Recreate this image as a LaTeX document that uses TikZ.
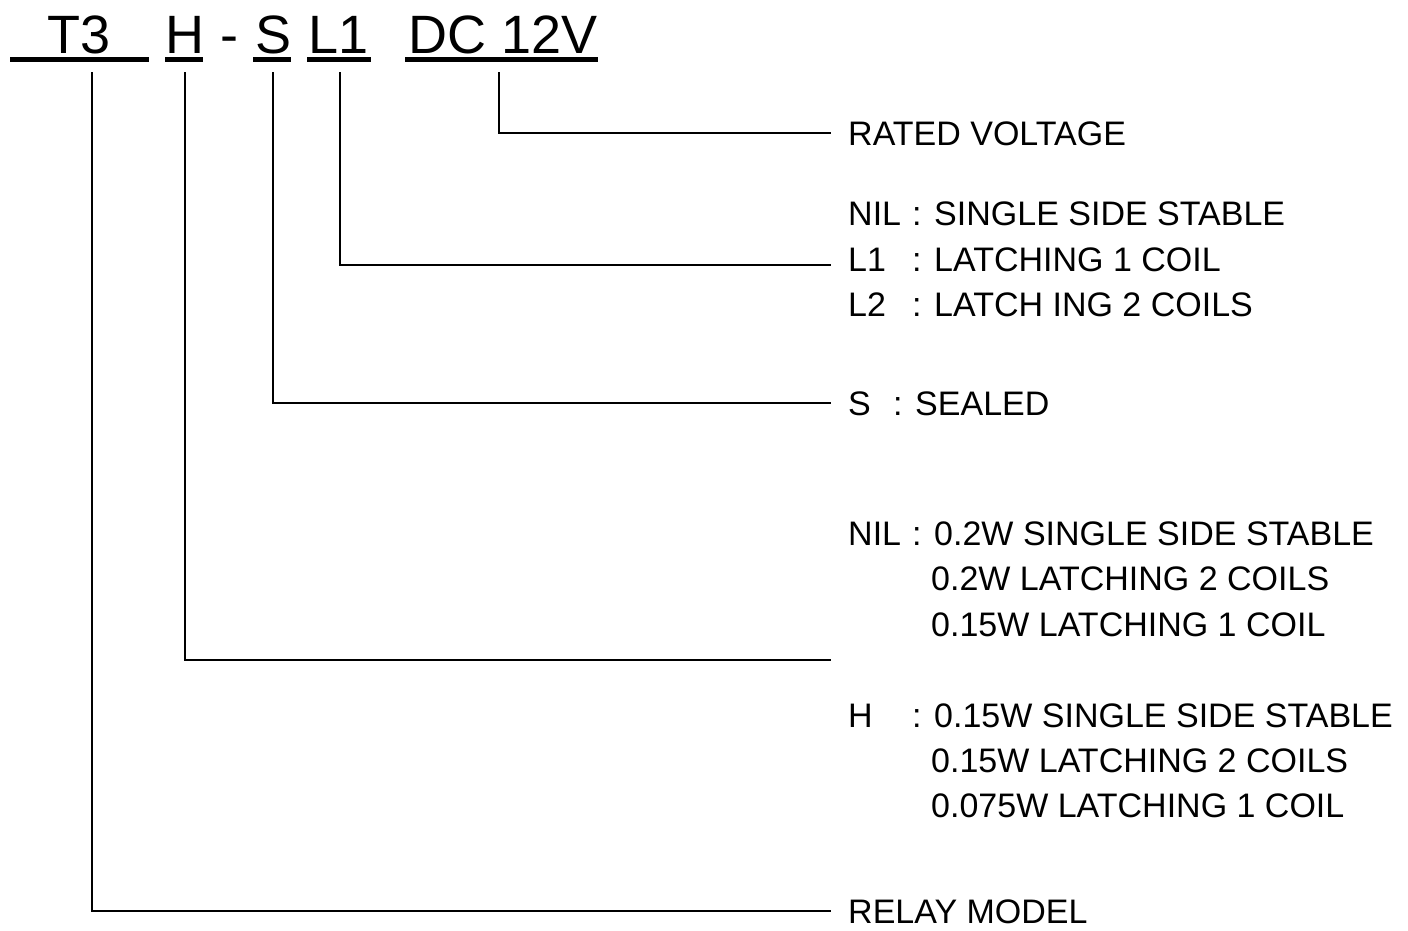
\documentclass[tikz,border=0pt]{standalone}
\usepackage{fontspec}
\setmainfont{Liberation Sans}
\usepackage{tikz}
\usetikzlibrary{positioning}

% key / colon / description columns of the option lists
\newcommand{\optkey}[3][64pt]{\makebox[#1][l]{#2}: #3}
\newcommand{\optcont}[1]{\hspace*{83pt}#1}

\tikzset{
  code/.style={anchor=base, inner sep=0pt, font=\fontsize{54}{60}\selectfont},
  uline/.style={line width=5pt},
  lead/.style={line width=2.2pt, line join=miter},
  lbl/.style={anchor=west, inner xsep=17pt, inner ysep=0pt,
              text height=24pt, text depth=0pt,
              font=\fontsize{34}{40}\selectfont},
}

\begin{document}
\begin{tikzpicture}[x=1pt, y=-1pt]

\useasboundingbox (0,0) rectangle (1408,930);

% ---------------------------------------------------------
% Part number
% ---------------------------------------------------------
\node[code] (t3)   at (79,53)  {T3};
\node[code] (h)    at (185,53) {H};
\node[code] (dash) at (229,53) {-};
\node[code] (s)    at (274,53) {S};
\node[code] (l1)   at (339,53) {L1};
\node[code] (dc)   at (503,53) {DC 12V};

% underlines
\draw[uline] (10,59)  -- (149,59);
\draw[uline] (165,59) -- (203,59);
\draw[uline] (253,59) -- (291,59);
\draw[uline] (307,59) -- (371,59);
\draw[uline] (405,59) -- (598,59);

% ---------------------------------------------------------
% Key points
% ---------------------------------------------------------
\coordinate (t3Top) at (92,72);
\coordinate (hTop)  at (185,72);
\coordinate (sTop)  at (273,72);
\coordinate (l1Top) at (340,72);
\coordinate (dcTop) at (499,72);

\coordinate (l1End) at (831,265);
\coordinate (hEnd)  at (831,660);

% ---------------------------------------------------------
% Labels
% ---------------------------------------------------------
\node[lbl] (rated)  at (831,133) {RATED VOLTAGE};

\node[lbl] (nilA)   at (831,213) {\optkey{NIL}{SINGLE SIDE STABLE}};
\node[lbl] (l1A)    at (831,259) {\optkey{L1}{LATCHING 1 COIL}};
\node[lbl] (l2A)    at (831,304) {\optkey{L2}{LATCH ING 2 COILS}};

\node[lbl] (sealed) at (831,403) {\optkey[45pt]{S}{SEALED}};

\node[lbl] (nilB1)  at (831,533) {\optkey{NIL}{0.2W SINGLE SIDE STABLE}};
\node[lbl] (nilB2)  at (831,578) {\optcont{0.2W LATCHING 2 COILS}};
\node[lbl] (nilB3)  at (831,624) {\optcont{0.15W LATCHING 1 COIL}};

\node[lbl] (hB1)    at (831,715) {\optkey{H}{0.15W SINGLE SIDE STABLE}};
\node[lbl] (hB2)    at (831,760) {\optcont{0.15W LATCHING 2 COILS}};
\node[lbl] (hB3)    at (831,805) {\optcont{0.075W LATCHING 1 COIL}};

\node[lbl] (relay)  at (831,911) {RELAY MODEL};

% ---------------------------------------------------------
% Leaders
% ---------------------------------------------------------
\draw[lead] (dcTop) |- (rated.west);
\draw[lead] (l1Top) |- (l1End);
\draw[lead] (sTop)  |- (sealed.west);
\draw[lead] (hTop)  |- (hEnd);
\draw[lead] (t3Top) |- (relay.west);

\end{tikzpicture}
\end{document}
